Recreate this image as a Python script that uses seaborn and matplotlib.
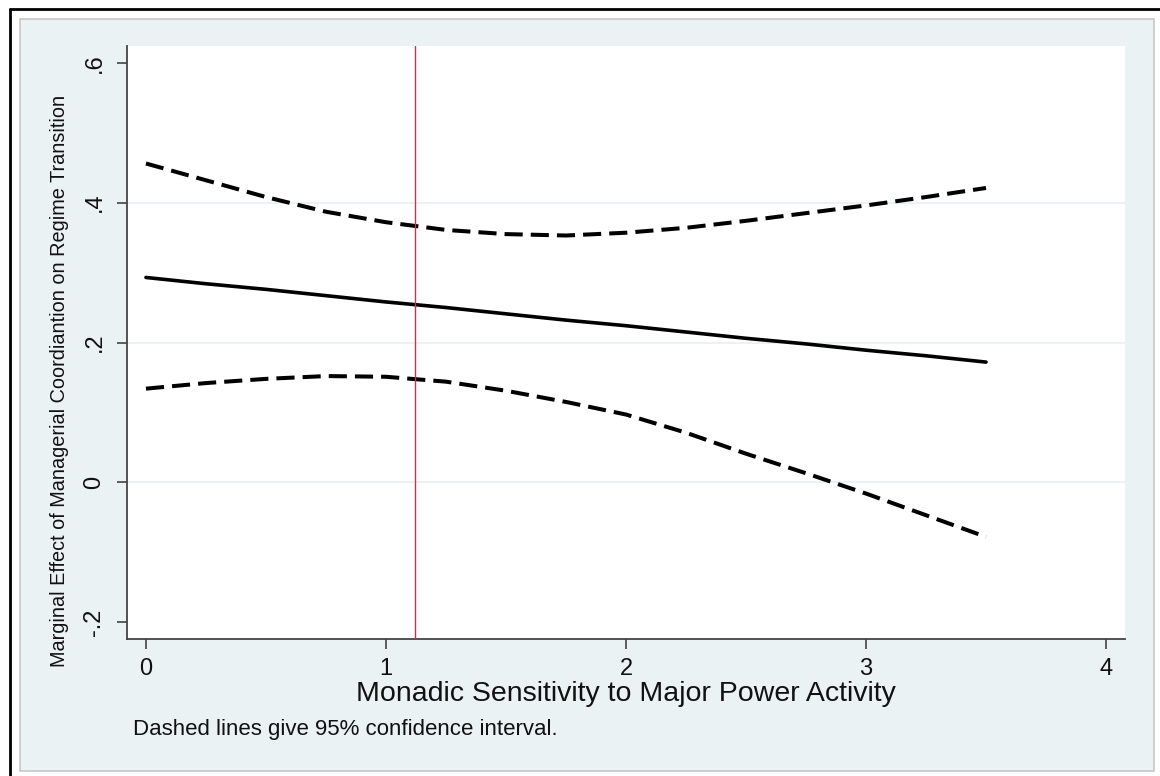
import numpy as np
import pandas as pd
import matplotlib
matplotlib.use("Agg")
import matplotlib.pyplot as plt
import seaborn as sns
from matplotlib.patches import Rectangle
from matplotlib.lines import Line2D

# ---- data ----
x_vals = [0, 0.25, 0.5, 0.75, 1.0, 1.25, 1.5, 1.75, 2.0, 2.25, 2.5, 2.75, 3.0, 3.25, 3.5]
effect = [0.293, 0.284, 0.276, 0.267, 0.258, 0.250, 0.241, 0.232, 0.224, 0.215, 0.206, 0.198, 0.189, 0.181, 0.172]
upper_ci = [0.456, 0.432, 0.408, 0.387, 0.372, 0.361, 0.355, 0.353, 0.357, 0.364, 0.374, 0.385, 0.396, 0.408, 0.421]
lower_ci = [0.134, 0.142, 0.148, 0.152, 0.151, 0.144, 0.131, 0.115, 0.097, 0.071, 0.041, 0.013, -0.016, -0.047, -0.078]
mean_line_x = 1.12
x_ticks = [0, 1, 2, 3, 4]
y_ticks = [-0.2, 0, 0.2, 0.4, 0.6]
y_tick_labels = ["-.2", "0", ".2", ".4", ".6"]
x_label = "Monadic Sensitivity to Major Power Activity"
y_label = "Marginal Effect of Managerial Coordiantion on Regime Transition"
note = "Dashed lines give 95% confidence interval."

df = pd.DataFrame({"x": x_vals, "effect": effect, "upper": upper_ci, "lower": lower_ci})

sns.set_style("white")
plt.rcParams["font.family"] = ["Liberation Sans", "DejaVu Sans"]

W, H = 1160, 776
fig = plt.figure(figsize=(W / 100, H / 100), dpi=100)
fig.patch.set_facecolor("white")

panel_color = "#eaf2f3"
text_color = "#111111"
# outer panel
fig.patches.append(Rectangle((20 / W, 1 - 771 / H), (1154 - 20) / W, (771 - 19) / H,
                             transform=fig.transFigure, facecolor=panel_color,
                             edgecolor="#c8c8c8", linewidth=1.2, zorder=-5))
# black frame lines (top and left)
fig.lines.append(Line2D([10 / W, 1.0], [1 - 9 / H, 1 - 9 / H], transform=fig.transFigure,
                        color="black", linewidth=2.0, zorder=-4))
fig.lines.append(Line2D([10 / W, 10 / W], [0, 1 - 9 / H], transform=fig.transFigure,
                        color="black", linewidth=2.0, zorder=-4))

ax = fig.add_axes([127 / W, 1 - 639 / H, (1125 - 127) / W, (639 - 46) / H])
ax.set_zorder(1)
ax.set_facecolor("white")

# gridlines at interior ticks
for yv in [0, 0.2, 0.4]:
    ax.axhline(yv, color=panel_color, linewidth=1.5, zorder=1)

sns.lineplot(data=df, x="x", y="effect", ax=ax, color="black", linewidth=2.6, zorder=3)
sns.lineplot(data=df, x="x", y="upper", ax=ax, color="black", linewidth=2.9, zorder=3)
sns.lineplot(data=df, x="x", y="lower", ax=ax, color="black", linewidth=2.9, zorder=3)
for ln in ax.lines[-2:]:
    ln.set_dashes((4.5, 2.0))
    ln.set_dash_capstyle("butt")

ax.axvline(mean_line_x, color="#c8334f", linewidth=1.0, zorder=4)

ax.set_xlim(-0.079, 4.079)
ax.set_ylim(-0.224, 0.624)
ax.set_xticks(x_ticks)
ax.set_xticklabels([str(t) for t in x_ticks], fontsize=17, color=text_color)
ax.set_yticks(y_ticks)
ax.set_yticklabels(y_tick_labels, fontsize=17, rotation=90, va="center", color=text_color)

for side in ["top", "right"]:
    ax.spines[side].set_visible(False)
for side in ["left", "bottom"]:
    ax.spines[side].set_color("#444444")
    ax.spines[side].set_linewidth(1.3)

ax.tick_params(axis="both", direction="out", length=7.5, width=1.2, color="#444444",
               left=True, bottom=True)
ax.tick_params(axis="x", pad=6)
ax.tick_params(axis="y", pad=8)

ax.set_xlabel(x_label, fontsize=20.5, labelpad=1, color=text_color)
ax.set_ylabel(y_label, fontsize=14.3, color=text_color)
ax.yaxis.set_label_coords((69 - 127) / (1125 - 127), (639 - 381) / (639 - 46))

fig.text(133 / W, 1 - 729 / H, note, fontsize=16, ha="left", va="center", color=text_color)

fig.savefig("out.png", dpi=100)
